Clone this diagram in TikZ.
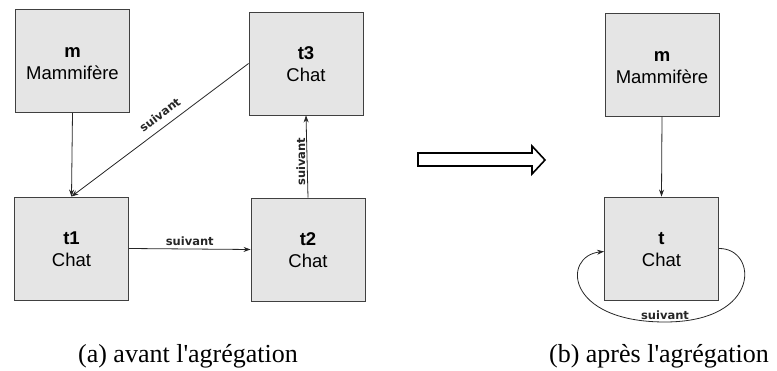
\documentclass[tikz,border=0pt]{standalone}
\usepackage{fontspec}
\setmainfont{Liberation Sans}
\newfontfamily\capfont{Liberation Serif}
\newfontfamily\lblfont{DejaVu Sans}
\usetikzlibrary{arrows.meta}
\tikzset{
  umlbox/.style={draw=black!75, line width=0.9pt, fill=gray!20, minimum width=114pt, minimum height=103pt, inner sep=0pt},
  ltop/.style={anchor=base, inner sep=0pt, font=\fontsize{18.5}{22}\selectfont\bfseries},
  lbot/.style={anchor=base, inner sep=0pt, font=\fontsize{18.5}{22}\selectfont},
  conn/.style={draw=black!85, line width=0.8pt, -{Stealth[length=7pt,width=5pt]}},
  rel/.style={font=\lblfont\fontsize{11.5}{13}\selectfont\bfseries, inner sep=1.5pt, text=black!85},
  captext/.style={anchor=base, inner sep=0pt, font=\capfont\fontsize{26}{30}\selectfont},
  bigarrow/.style={draw=black, line width=1.6pt, fill=white, line join=miter}
}
\newcommand\umlnode[4]{%
  \node[umlbox] (#1) at (#2) {};
  \node[ltop] (#1-a) at ([yshift=3.7pt]#1.center) {#3};
  \node[lbot] (#1-b) at ([yshift=-18.5pt]#1.center) {#4};}
\begin{document}
\begin{tikzpicture}[x=1pt,y=-1pt]
\useasboundingbox (0,0) rectangle (777,371);
% (a)
\umlnode{m}{72.5,61}{m}{Mammifère}
\umlnode{t3}{306,63.5}{t3}{Chat}
\umlnode{t1}{71.5,248.5}{t1}{Chat}
\umlnode{t2}{308,249.5}{t2}{Chat}
\draw[conn] (m.south) -- (t1.north);
\draw[conn] (t3.west) -- node[rel, rotate=37, anchor=south, pos=0.45, xshift=-2pt, yshift=6pt] (l31) {suivant} (t1.north);
\draw[conn] (t1.east) -- node[rel, above=1pt] (l12) {suivant} (t2.west);
\draw[conn] (t2.north) -- node[rel, rotate=90, anchor=south, pos=0.45, xshift=-1pt] (l23) {suivant} (t3.south);
% hollow arrow
\draw[bigarrow] (418,153) -- (532,153) -- (532,146) -- (545,160) -- (532,174) -- (532,166) -- (418,166) -- cycle;
% (b)
\umlnode{mr}{662,65}{m}{Mammifère}
\umlnode{t}{661.5,248.5}{t}{Chat}
\draw[conn] (mr.south) -- (t.north);
\draw[conn] (t.east) .. controls (758,248) and (762,322) .. (665,322)
  node[rel, above=0pt] (lt) {suivant}
  .. controls (565,322) and (562,256) .. ([yshift=-3pt]t.west);
% captions
\node[captext] (capa) at (188,363) {(a) avant l'agrégation};
\node[captext] (capb) at (659,363) {(b) après l'agrégation};
\end{tikzpicture}
\end{document}
